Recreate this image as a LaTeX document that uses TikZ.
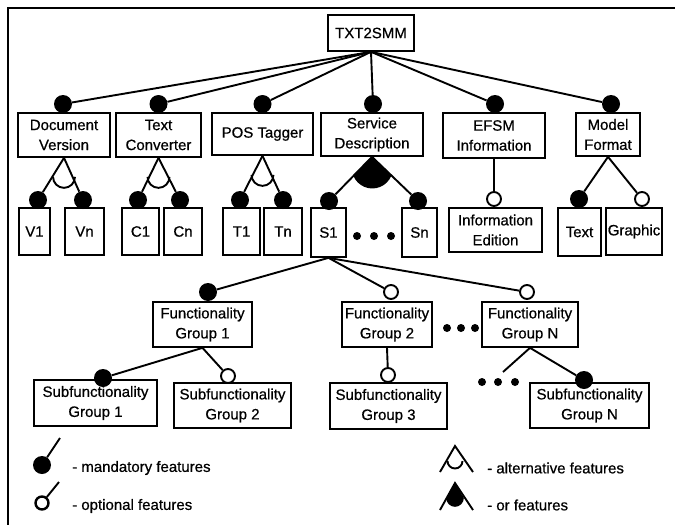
\documentclass[tikz,border=0pt]{standalone}
\usepackage{fontspec}
\setmainfont{Liberation Sans}
\newfontfamily\diagfont{Liberation Sans}[FakeBold=0.6]
\usetikzlibrary{calc}
\begin{document}
\begin{tikzpicture}[x=1pt,y=-1pt,
  every node/.style={font=\diagfont\fontsize{15}{20}\selectfont},
  fbox/.style={draw, line width=1.7pt, inner sep=0pt, align=center},
  conn/.style={line width=1.9pt},
  mand/.style={circle, fill=black, inner sep=0pt, minimum size=18pt},
  opt/.style={circle, draw, fill=white, line width=1.9pt, inner sep=0pt, minimum size=14pt},
  dotn/.style={circle, fill=black, inner sep=0pt, minimum size=8pt},
  legtext/.style={anchor=west, inner sep=0pt},
]
\useasboundingbox (0,0) rectangle (675,525);
% frame
\draw[line width=2pt] (8,525) -- (8,8) -- (675,8);

% root feature
\node[fbox, minimum width=86pt, minimum height=36pt] (root) at (371,33) {TXT2SMM};

% first level features
\node[fbox, minimum width=92pt,  minimum height=44pt] (dv)   at (64,135)    {Document\\Version};
\node[fbox, minimum width=85pt,  minimum height=44pt] (tc)   at (158.5,135) {Text\\Converter};
\node[fbox, minimum width=101pt, minimum height=42pt] (pos)  at (262.5,134) {POS Tagger};
\node[fbox, minimum width=102pt, minimum height=43pt] (sd)   at (372,134.5) {Service\\Description};
\node[fbox, minimum width=102pt, minimum height=45pt] (efsm) at (494,135.5) {EFSM\\Information};
\node[fbox, minimum width=64pt,  minimum height=43pt] (mf)   at (608,134.5) {Model\\Format};

\foreach \n/\x in {dv/63, tc/158.5, pos/262.5, sd/373, efsm/495, mf/611}{
  \node[mand] (k\n) at (\x,104) {};
  \draw[conn] (root.south) -- (k\n);
}

% second level features
\node[fbox, minimum width=31pt, minimum height=47pt] (v1)  at (34.5,231.5)  {V1};
\node[fbox, minimum width=39pt, minimum height=47pt] (vn)  at (84.5,231.5)  {Vn};
\node[fbox, minimum width=37pt, minimum height=47pt] (c1)  at (140.5,231.5) {C1};
\node[fbox, minimum width=38pt, minimum height=47pt] (cn)  at (183,231.5)   {Cn};
\node[fbox, minimum width=37pt, minimum height=47pt] (t1)  at (241.5,231.5) {T1};
\node[fbox, minimum width=38pt, minimum height=47pt] (tn)  at (283,231.5)   {Tn};
\node[fbox, minimum width=35pt, minimum height=49pt] (s1)  at (328.5,232.5) {S1};
\node[fbox, minimum width=35pt, minimum height=49pt] (sn)  at (419.5,232.5) {Sn};
\node[fbox, minimum width=93pt, minimum height=44pt] (ie)  at (495.5,230)   {Information\\Edition};
\node[fbox, minimum width=43pt, minimum height=48pt] (txt) at (579.5,232)   {Text};
\node[fbox, minimum width=56pt, minimum height=47pt] (gra) at (634,231.5)   {Graphic};

\node[mand] (kv1)  at (38,200)  {};
\node[mand] (kvn)  at (83,200)  {};
\node[mand] (kc1)  at (138,200) {};
\node[mand] (kcn)  at (180,200) {};
\node[mand] (kt1)  at (240,200) {};
\node[mand] (ktn)  at (283,200) {};
\node[mand] (ks1)  at (329,201) {};
\node[mand] (ksn)  at (418,201) {};
\node[opt]  (kie)  at (494,199) {};
\node[mand] (ktxt) at (579,199) {};
\node[opt]  (kgra) at (642,199) {};

% alternative groups
\foreach \p/\a/\b in {dv/kv1/kvn, tc/kc1/kcn, pos/kt1/ktn}{
  \draw[conn] (\p.south) -- (\a);
  \draw[conn] (\p.south) -- (\b);
  \draw[conn] ([yshift=-19pt]\p.south) ++(-11,0) arc[start angle=180, end angle=0, radius=11];
}

% or group
\draw[conn] (sd.south) -- (ks1);
\draw[conn] (sd.south) -- (ksn);
\fill (sd.south) -- ++(-18.6,19) arc[start angle=157.4, end angle=22.6, radius=20.5] -- cycle;
\foreach \i/\x in {1/357, 2/374, 3/391} \node[dotn] (ds\i) at (\x,236) {};

% optional and model format children
\draw[conn] (efsm.south) -- (kie);
\draw[conn] (mf.south) -- (ktxt);
\draw[conn] (mf.south) -- (kgra);

% functionality groups
\node[fbox, minimum width=99pt, minimum height=45pt] (fg1) at (202.5,324.5) {Functionality\\Group 1};
\node[fbox, minimum width=90pt, minimum height=45pt] (fg2) at (387,324.5)   {Functionality\\Group 2};
\node[fbox, minimum width=96pt, minimum height=45pt] (fgn) at (530,324.5)   {Functionality\\Group N};

\node[mand] (kfg1) at (208,292) {};
\node[opt]  (kfg2) at (391,292) {};
\node[opt]  (kfgn) at (527,292) {};
\draw[conn] (s1.south) -- (kfg1);
\draw[conn] (s1.south) -- (kfg2);
\draw[conn] (s1.south) -- (kfgn);
\foreach \i/\x in {1/447, 2/461, 3/475} \node[dotn] (df\i) at (\x,328) {};

% subfunctionality groups
\node[fbox, minimum width=123pt, minimum height=46pt] (sf1) at (95.5,403)   {Subfunctionality\\Group 1};
\node[fbox, minimum width=117pt, minimum height=45pt] (sf2) at (232.5,405.5) {Subfunctionality\\Group 2};
\node[fbox, minimum width=117pt, minimum height=46pt] (sf3) at (388.5,406)   {Subfunctionality\\Group 3};
\node[fbox, minimum width=119pt, minimum height=45pt] (sfn) at (589.5,405.5) {Subfunctionality\\Group N};

\node[mand] (ksf1) at (103,378) {};
\node[opt]  (ksf2) at (228,376) {};
\node[opt]  (ksf3) at (388,375) {};
\node[mand] (ksfn) at (584,380) {};
\coordinate (fgnend) at (503,372);
\draw[conn] (fg1.south) -- (ksf1);
\draw[conn] (fg1.south) -- (ksf2);
\draw[conn] (fg2.south) -- (ksf3);
\draw[conn] (fgn.south) -- (ksfn);
\draw[conn] (fgn.south) -- (fgnend);
\foreach \i/\x in {1/482, 2/498, 3/515} \node[dotn] (dg\i) at (\x,382) {};

% legend
\node[mand, minimum size=18pt] (lm) at (42,465) {};
\coordinate (lmt) at (60,438);
\draw[conn] (lm) -- (lmt);
\node[legtext] (lmtx) at (72,468) {- mandatory features};

\node[opt, minimum size=13pt, line width=2.4pt] (lo) at (42,503) {};
\coordinate (lot) at (59,482);
\draw[conn] (lo) -- (lot);
\node[legtext] (lotx) at (72,506) {- optional features};

\coordinate (la) at (455,446);
\coordinate (la1) at (440,472);
\coordinate (la2) at (473,472);
\draw[conn] (la1) -- (la) -- (la2);
\draw[conn] ([yshift=-15pt]la) ++(-7.5,0) arc[start angle=180, end angle=0, radius=7.5];
\node[legtext] (latx) at (487,468) {- alternative features};

\coordinate (lr) at (455,483);
\coordinate (lr1) at (440,510);
\coordinate (lr2) at (473,510);
\draw[conn] (lr1) -- (lr) -- (lr2);
\fill (lr) -- ++(-8.8,15) arc[start angle=180, end angle=0, radius=8.8] -- cycle;
\node[legtext] (lrtx) at (487,505) {- or features};
\end{tikzpicture}
\end{document}
